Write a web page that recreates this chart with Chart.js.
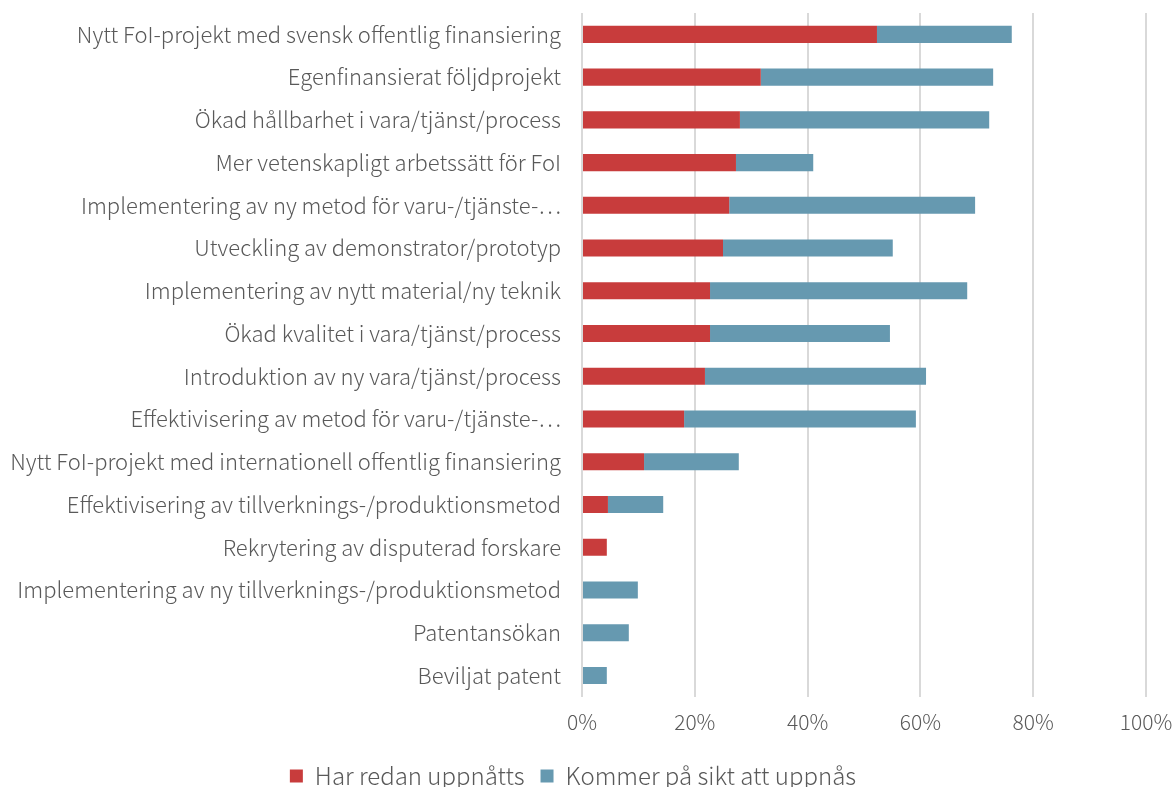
<!DOCTYPE html>
<html>
<head>
<meta charset="utf-8">
<script src="https://cdn.jsdelivr.net/npm/chart.js@4/dist/chart.umd.min.js"></script>
<style>
  html, body { margin: 0; padding: 0; background: #fff; }
  #wrap { width: 1174px; height: 787px; }
</style>
</head>
<body>
<div id="wrap"><canvas id="myChart"></canvas></div>
<script>
var categories = [
  'Nytt FoI-projekt med svensk offentlig finansiering',
  'Egenfinansierat följdprojekt',
  'Ökad hållbarhet i vara/tjänst/process',
  'Mer vetenskapligt arbetssätt för FoI',
  'Implementering av ny metod för varu-/tjänste-⋯',
  'Utveckling av demonstrator/prototyp',
  'Implementering av nytt material/ny teknik',
  'Ökad kvalitet i vara/tjänst/process',
  'Introduktion av ny vara/tjänst/process',
  'Effektivisering av metod för varu-/tjänste-⋯',
  'Nytt FoI-projekt med internationell offentlig finansiering',
  'Effektivisering av tillverknings-/produktionsmetod',
  'Rekrytering av disputerad forskare',
  'Implementering av ny tillverknings-/produktionsmetod',
  'Patentansökan',
  'Beviljat patent'
];
var redanUppnatts = [52.3, 31.7, 28.0, 27.3, 26.1, 25.0, 22.7, 22.7, 21.8, 18.1, 11.0, 4.6, 4.4, 0, 0, 0];
var siktUppnas = [23.9, 41.2, 44.2, 13.7, 43.6, 30.1, 45.6, 31.9, 39.2, 41.1, 16.8, 9.8, 0, 9.9, 8.3, 4.4];
var xTicks = [0, 20, 40, 60, 80, 100];

var fontFam = "'Noto Sans CJK JP', 'Noto Sans', sans-serif";
var ctx = document.getElementById('myChart').getContext('2d');
var myChart = new Chart(ctx, {
  type: 'bar',
  data: {
    labels: categories,
    datasets: [{
      label: 'Har redan uppnåtts',
      data: redanUppnatts,
      backgroundColor: '#c83c3c',
      barPercentage: 0.4,
      categoryPercentage: 1
    }, {
      label: 'Kommer på sikt att uppnås',
      data: siktUppnas,
      backgroundColor: '#6699b0',
      barPercentage: 0.4,
      categoryPercentage: 1
    }]
  },
  options: {
    indexAxis: 'y',
    responsive: true,
    maintainAspectRatio: false,
    animation: false,
    layout: { padding: { top: 13, right: 28, bottom: -11, left: 0 } },
    scales: {
      x: {
        stacked: true,
        min: 0,
        max: 100,
        afterBuildTicks: function (scale) {
          scale.ticks = xTicks.map(function (v) { return { value: v }; });
        },
        afterFit: function (scale) {
          scale.paddingLeft = 0;
          scale.paddingRight = 0;
        },
        grid: { color: '#d9d9d9', lineWidth: 2, drawTicks: false },
        border: { display: false },
        ticks: {
          padding: 13,
          color: '#595959',
          font: { family: fontFam, size: 21, weight: 300 },
          callback: function (v) { return v + '%'; }
        }
      },
      y: {
        stacked: true,
        grid: { display: false, drawTicks: false },
        border: { display: false },
        afterFit: function (scale) {
          scale.width = 582;
          scale.paddingTop = 0;
          scale.paddingBottom = 0;
        },
        ticks: {
          padding: 21,
          autoSkip: false,
          color: '#595959',
          font: { family: fontFam, size: 22, weight: 300 }
        }
      }
    },
    plugins: {
      legend: {
        position: 'bottom',
        labels: {
          boxWidth: 13,
          boxHeight: 13,
          padding: 16,
          color: '#595959',
          font: { family: fontFam, size: 24, weight: 300 }
        }
      },
      tooltip: { enabled: false }
    }
  }
});
</script>
</body>
</html>
